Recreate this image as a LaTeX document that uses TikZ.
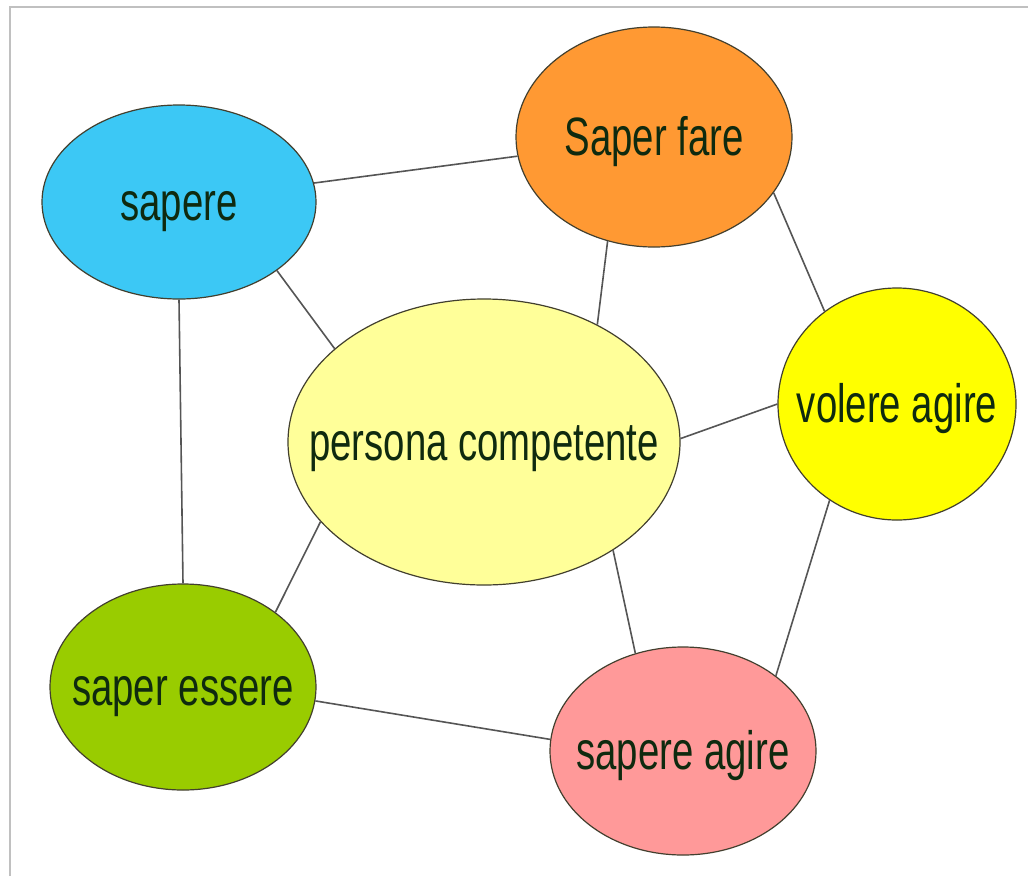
\documentclass[tikz,border=0pt]{standalone}
\usepackage{fontspec}
\setmainfont{Liberation Sans}
\newfontfamily\narrowfont[FakeStretch=0.71]{Liberation Sans}
\usetikzlibrary{shapes.geometric}
\definecolor{cSapere}{HTML}{3CC8F5}
\definecolor{cFare}{HTML}{FF9933}
\definecolor{cPersona}{HTML}{FFFF99}
\definecolor{cVolere}{HTML}{FFFF00}
\definecolor{cEssere}{HTML}{99CC00}
\definecolor{cAgire}{HTML}{FF9999}
\definecolor{cText}{HTML}{0F2A0F}
\definecolor{cLine}{HTML}{555555}
\definecolor{cFrame}{HTML}{C0C0C0}
\newcommand{\zw}[1]{\makebox[0pt]{#1}}
\tikzset{
  bubble/.style={ellipse, draw=black!70!olive, line width=1.2pt, inner sep=0pt,
    text=cText, font=\narrowfont\fontsize{54}{60}\selectfont,
    text height=48pt, text depth=12pt},
  link/.style={draw=cLine, line width=1.6pt},
}
\begin{document}
\begin{tikzpicture}[x=1pt,y=-1pt]
\useasboundingbox (0,0) rectangle (1028,876);
\fill[white] (0,0) rectangle (1028,876);
\coordinate (fa) at (10,876);
\coordinate (fb) at (10,7);
\coordinate (fc) at (1028,7);
\draw[cFrame, line width=1.5pt] (fa) -- (fb) -- (fc);

\node[bubble, fill=cSapere, minimum width=274pt, minimum height=194pt] (sapere) at (179,202) {\zw{sapere}};
\node[bubble, fill=cFare, minimum width=276pt, minimum height=220pt] (fare) at (654,137) {\zw{Saper fare}};
\node[bubble, fill=cPersona, minimum width=392pt, minimum height=286pt] (persona) at (484,442) {\zw{persona competente}};
\node[bubble, fill=cVolere, minimum width=238pt, minimum height=232pt] (volere) at (897,404) {\zw{volere agire}};
\node[bubble, fill=cEssere, minimum width=266pt, minimum height=206pt] (essere) at (183,687) {\zw{saper essere}};
\node[bubble, fill=cAgire, minimum width=266pt, minimum height=208pt] (agire) at (683,751) {\zw{sapere agire}};

\draw[link] (sapere.8) -- (fare.188);
\draw[link] (fare.-25) -- (volere.128);
\draw[link] (sapere.-35) -- (persona.148);
\draw[link] (fare.246) -- (persona.46);
\draw[link] (sapere.south) -- (essere.north);
\draw[link] (persona.1) -- (volere.180);
\draw[link] (persona.206) -- (essere.39);
\draw[link] (persona.-40) -- (agire.116);
\draw[link] (volere.235) -- (agire.39);
\draw[link] (essere.-6) -- (agire.175);
\end{tikzpicture}
\end{document}
